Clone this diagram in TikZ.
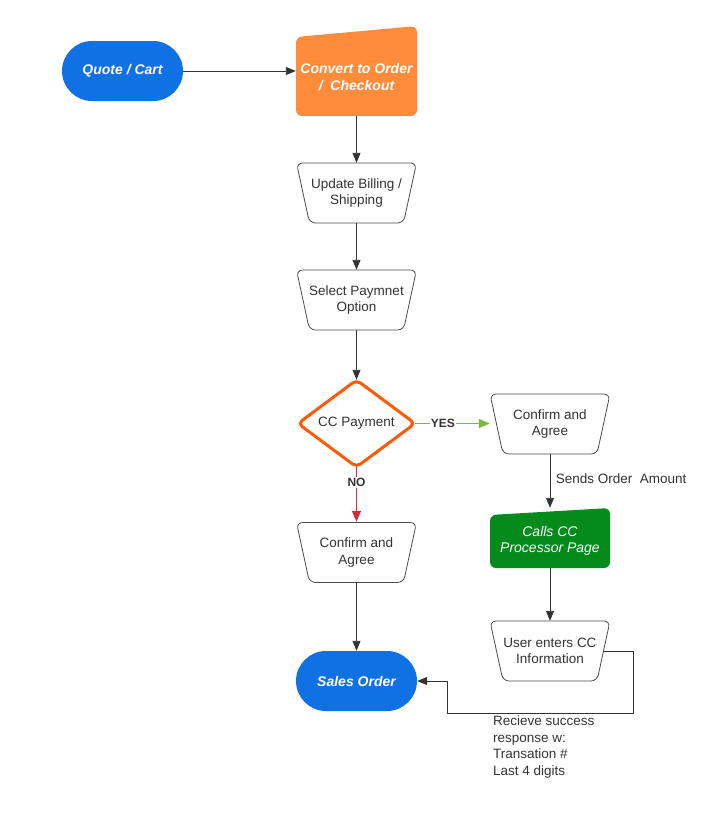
\documentclass[tikz,border=0pt]{standalone}
\usepackage{fontspec}
\setmainfont{Liberation Sans}
\usetikzlibrary{arrows.meta}
\definecolor{qblue}{HTML}{1071E5}
\definecolor{corange}{HTML}{FF8C3B}
\definecolor{dorange}{HTML}{FF5A0A}
\definecolor{pgreen}{HTML}{058A1C}
\definecolor{ygreen}{HTML}{77BB41}
\definecolor{nred}{HTML}{D42A3C}
\definecolor{lgray}{HTML}{4A4A4A}
\definecolor{tgray}{HTML}{333333}
\newcommand\mytrap[2]{\draw[trapline] (#1-60,#2-30) -- (#1+60,#2-30) -- (#1+47,#2+30) -- (#1-47,#2+30) -- cycle;}
\begin{document}
\begin{tikzpicture}[x=1pt,y=-1pt,
  trapline/.style={draw=lgray,line width=0.8pt,rounded corners=6pt,fill=white},
  ph/.style={draw=none,inner sep=0pt,minimum width=120pt,minimum height=60pt},
  txt/.style={text=tgray,align=center,font=\fontsize{13.5}{16.5}\selectfont},
  wtxt/.style={text=white,align=center,font=\fontsize{14}{16.5}\selectfont\bfseries\itshape},
  arr/.style={draw=tgray,line width=0.9pt,-{Triangle[length=10pt,width=8pt]}},
  lab/.style={font=\fontsize{12}{14}\selectfont\bfseries,text=tgray,fill=white,inner sep=1pt}]
\useasboundingbox (0,0) rectangle (721,817);

% shapes
\fill[qblue,rounded corners=30pt] (62,41) rectangle (183,101);
\fill[corange,rounded corners=6pt] (296,37) -- (417,26) -- (417,116) -- (296,116) -- cycle;
\mytrap{356.5}{193}
\mytrap{356.5}{300}
\draw[dorange,line width=3pt,rounded corners=5pt,fill=white] (356.5,380) -- (415,423.5) -- (356.5,467) -- (298,423.5) -- cycle;
\mytrap{550}{424}
\fill[pgreen,rounded corners=6pt] (490,515) -- (610,508) -- (610,568) -- (490,568) -- cycle;
\mytrap{550}{651}
\mytrap{356.5}{552.5}
\fill[qblue,rounded corners=30pt] (296,651) rectangle (417,711);

% nodes
\node[ph,minimum width=121pt] (quote) at (122.5,71) {};
\node[wtxt] at (quote) {Quote / Cart};
\node[ph,minimum width=121pt,minimum height=90pt] (convert) at (356.5,71) {};
\node[wtxt] at (356.5,77) {Convert to Order\\/\ \ Checkout};
\node[ph] (update) at (356.5,193) {};
\node[txt] at (update) {Update Billing /\\Shipping};
\node[ph] (select) at (356.5,300) {};
\node[txt] at (select) {Select Paymnet\\Option};
\node[ph,minimum width=117pt,minimum height=87pt] (cc) at (356.5,423.5) {};
\node[txt] at (cc) {CC Payment};
\node[ph] (conf2) at (550,424) {};
\node[txt] at (conf2) {Confirm and\\Agree};
\node[ph] (calls) at (550,538) {};
\node[wtxt,font=\fontsize{14}{16.5}\selectfont\itshape] at (550,541) {Calls CC\\Processor Page};
\node[ph,minimum width=107pt] (user) at (550,651) {};
\node[txt] at (user) {User enters CC\\Information};
\node[ph,minimum height=61pt] (conf1) at (356.5,552.5) {};
\node[txt] at (conf1) {Confirm and\\Agree};
\node[ph,minimum width=121pt] (sales) at (356.5,681) {};
\node[wtxt] at (sales) {Sales Order};

% connectors
\draw[arr] (quote) -- (convert);
\draw[arr] (convert) -- (update);
\draw[arr] (update) -- (select);
\draw[arr] (select) -- (cc);
\draw[draw=ygreen,line width=1.4pt,-{Triangle[length=11pt,width=9pt]}] (cc) -- node[lab,pos=0.37]{YES} (conf2.west |- cc);
\draw[draw=nred,line width=1.6pt,-{Triangle[length=11pt,width=9pt]}] (cc) -- node[lab,pos=0.28]{NO} (conf1);
\draw[arr] (conf2) -- node[right=2pt,txt,pos=0.45]{Sends Order\ \ Amount} (calls);
\draw[arr] (calls) -- (user);
\draw[arr] (conf1) -- (sales);
\coordinate (r1) at (633,713);
\coordinate (r2) at (447,713);
\draw[arr] (user.east) -| (r1) -- (r2) |- (sales.east);
\node[txt,align=left,anchor=north west,inner sep=0pt] (resp) at (493,716) {Recieve success\\response w:\\Transation \#\\Last 4 digits};
\end{tikzpicture}
\end{document}
